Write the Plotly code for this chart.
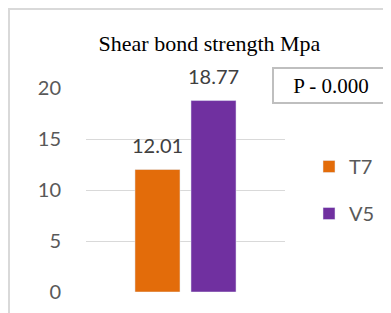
import plotly.graph_objects as go

categories = ["Shear bond strength Mpa"]
series_names = ["T7", "V5"]
t7_values = [12.01]
v5_values = [18.77]
series_colors = ["#E36C0A", "#7030A0"]
y_ticks = [0, 5, 10, 15, 20]
p_text = "P - 0.000"

# page body has an 8px default margin, so the figure is 8px smaller
W, H = 383, 305
L, R, T, B = 78, 106, 80, 21
pw, ph = W - L - R, H - T - B

fig = go.Figure()
for name, vals, col in zip(series_names, [t7_values, v5_values], series_colors):
    fig.add_trace(go.Bar(x=categories, y=vals, name=name, marker_color=col,
                         legendgroup=name))

# data labels
slot = pw * (1 - 0.437) / 2
for i, vals in enumerate([t7_values, v5_values]):
    for c, v in zip(categories, vals):
        fig.add_annotation(x=c, y=v, xref="x", yref="y", text=f"{v:.2f}",
                           showarrow=False, yanchor="middle", yshift=25,
                           xshift=(i - 0.5) * slot,
                           font=dict(family="Lato", size=20, color="#404040"))

# P value box
fig.add_annotation(xref="paper", yref="paper",
                   x=(323 - L) / pw, y=(H - B - 77.5) / ph,
                   text=p_text, showarrow=False, xanchor="center", yanchor="middle",
                   width=112, height=31, borderpad=1, borderwidth=2,
                   bordercolor="#BFBFBF", bgcolor="white",
                   font=dict(family="Liberation Serif", size=21, color="black"))

# outer chart border
fig.add_shape(type="rect", xref="paper", yref="paper",
              x0=(1 - L) / pw, x1=2, y0=-0.5, y1=(H - B - 1) / ph,
              line=dict(color="#D9D9D9", width=2), layer="below")

fig.update_layout(
    width=W, height=H,
    margin=dict(l=L, r=R, t=T, b=B, pad=0, autoexpand=False),
    paper_bgcolor="white", plot_bgcolor="white",
    barmode="group", bargap=0.437, bargroupgap=0.196,
    title=dict(text="Shear bond strength Mpa", x=201.5 / W, xanchor="center",
               y=1 - 28 / H, yanchor="top",
               font=dict(family="Liberation Serif", size=22, color="black")),
    showlegend=True,
    legend=dict(x=(301 - L) / pw, y=(H - B - 139) / ph, xanchor="left", yanchor="top",
                font=dict(family="Lato", size=20, color="#595959"),
                tracegroupgap=18, itemwidth=30, bgcolor="rgba(0,0,0,0)"),
    xaxis=dict(showticklabels=False, showgrid=False, showline=False, zeroline=False),
    yaxis=dict(range=[0, 20], tickvals=y_ticks, showgrid=True, gridcolor="#D9D9D9",
               gridwidth=1, zeroline=False, showline=False, ticklabelstandoff=24,
               tickfont=dict(family="Lato", size=20, color="#595959")),
)

fig.write_html("out.html")
